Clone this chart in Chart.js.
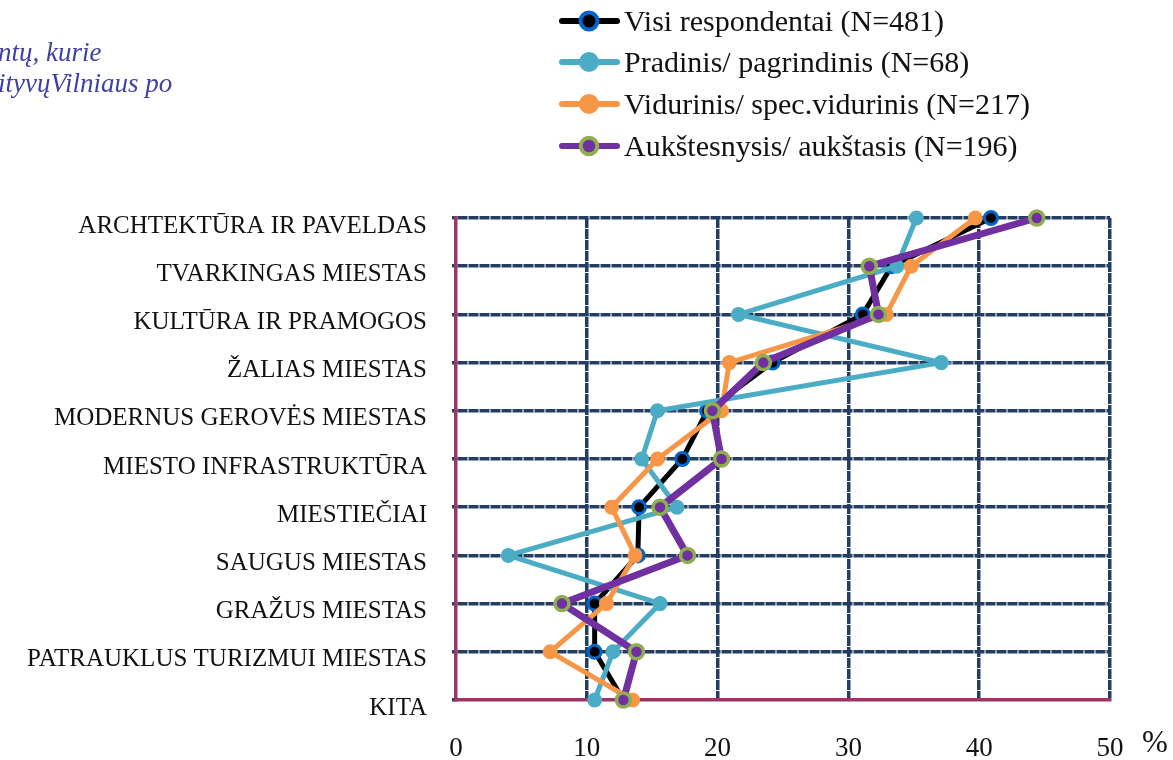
<!DOCTYPE html>
<html>
<head>
<meta charset="utf-8">
<script src="https://cdn.jsdelivr.net/npm/chart.js@4"></script>
<style>
  html, body { margin: 0; padding: 0; background: #fff; }
  body { width: 1173px; height: 760px; position: relative; overflow: hidden; font-family: "Liberation Serif", serif; }
  #wrap { position: absolute; left: 0; top: 0; width: 1173px; height: 760px; }
  .note { position: absolute; left: -2px; color: #3f3fa5; font-style: italic; font-size: 27px; white-space: nowrap; }
  .legend { position: absolute; left: 558px; top: 0; }
  .legend .row { height: 41.6px; display: flex; align-items: center; font-size: 30px; color: #111; white-space: nowrap; }
  .legend svg { margin-right: 2px; }
  .pct { position: absolute; left: 1142px; top: 724px; font-size: 31px; color: #111; }
</style>
</head>
<body>
<div id="wrap"><canvas id="c"></canvas></div>
<div class="note" style="top:37px">ntų, kurie</div>
<div class="note" style="top:68px">ityvųVilniaus po</div>
<div class="legend" id="legend"></div>
<div class="pct">%</div>
<script>
// categories top to bottom
const categories = ['ARCHTEKTŪRA IR PAVELDAS', 'TVARKINGAS MIESTAS', 'KULTŪRA IR PRAMOGOS', 'ŽALIAS MIESTAS',
  'MODERNUS GEROVĖS MIESTAS', 'MIESTO INFRASTRUKTŪRA', 'MIESTIEČIAI', 'SAUGUS MIESTAS',
  'GRAŽUS MIESTAS', 'PATRAUKLUS TURIZMUI MIESTAS', 'KITA']

// % values
const visi = [40.9, 33.3, 31.1, 24.2, 19.2, 17.3, 14.0, 13.9, 10.6, 10.6, 12.8]
const pradinis = [35.2, 33.7, 21.6, 37.1, 15.4, 14.2, 16.9, 4.0, 15.6, 12.0, 10.6]
const vidurinis = [39.7, 34.8, 32.9, 20.9, 20.3, 15.4, 11.9, 13.7, 11.5, 7.2, 13.5]
const aukstesnysis = [44.4, 31.6, 32.3, 23.5, 19.6, 20.3, 15.6, 17.7, 8.1, 13.8, 12.8]

const seriesNames = ['Visi respondentai (N=481)', 'Pradinis/ pagrindinis (N=68)',
  'Vidurinis/ spec.vidurinis (N=217)', 'Aukštesnysis/ aukštasis (N=196)']

const xMin = 0
const xMax = 50
const xStep = 10

const NAVY = '#243e62'
const AXIS = '#9c3468'

const styles = [
  { line: '#000000', fill: '#000000', ring: '#0066cc', width: 5, radius: 6.5, ringW: 3, order: 4 },
  { line: '#4bacc6', fill: '#4bacc6', ring: '#4bacc6', width: 5, radius: 7.5, ringW: 0, order: 3 },
  { line: '#f79646', fill: '#f79646', ring: '#f79646', width: 5, radius: 7.5, ringW: 0, order: 2 },
  { line: '#7030a0', fill: '#7030a0', ring: '#8fae4f', width: 7, radius: 7, ringW: 3.5, order: 1 }
]
const values = [visi, pradinis, vidurinis, aukstesnysis]

const datasets = values.map((v, i) => ({
  label: seriesNames[i],
  data: v,
  borderColor: styles[i].line,
  borderWidth: styles[i].width,
  backgroundColor: styles[i].fill,
  pointBackgroundColor: styles[i].fill,
  pointBorderColor: styles[i].ring,
  pointBorderWidth: styles[i].ringW,
  pointRadius: styles[i].radius,
  tension: 0,
  clip: false,
  order: styles[i].order
}))

// html legend: line with marker
const legendEl = document.getElementById('legend')
styles.forEach((s, i) => {
  const row = document.createElement('div')
  row.className = 'row'
  const r = s.ringW ? 10 - s.ringW / 2 : 10
  row.innerHTML = `<svg width="64" height="24"><line x1="4" y1="12" x2="59" y2="12" stroke="${s.line}" stroke-width="6" stroke-linecap="round"/>` +
    `<circle cx="31" cy="12" r="${r}" fill="${s.fill}" stroke="${s.ring}" stroke-width="${s.ringW ? 4 : 0}"/></svg>` +
    `<span>${seriesNames[i]}</span>`
  legendEl.appendChild(row)
})

new Chart(document.getElementById('c'), {
  type: 'line',
  data: { labels: categories, datasets },
  options: {
    indexAxis: 'y',
    responsive: true,
    maintainAspectRatio: false,
    animation: false,
    layout: { padding: { left: 0, right: 63, top: 218, bottom: 0 } },
    plugins: { legend: { display: false }, tooltip: { enabled: false } },
    scales: {
      x: {
        type: 'linear', position: 'bottom', min: xMin, max: xMax,
        afterFit: s => { s.height = 60 },
        ticks: { stepSize: xStep, color: '#111', padding: 33, font: { family: 'Liberation Serif', size: 27 } },
        grid: { color: c => c.tick && c.tick.value === xMin ? 'rgba(0,0,0,0)' : NAVY, lineWidth: 3.5, drawTicks: false },
        border: { color: AXIS, width: 3.5, dash: [10, 1] }
      },
      y: {
        type: 'category', offset: false,
        afterFit: s => { s.width = 456 },
        ticks: { color: '#111', padding: 25, labelOffset: 8, font: { family: 'Liberation Serif', size: 25 } },
        grid: {
          color: c => c.index === categories.length - 1 ? 'rgba(0,0,0,0)' : NAVY,
          lineWidth: 3.5, tickLength: 4, tickColor: NAVY, tickWidth: 3.5
        },
        border: { color: AXIS, width: 3.5, dash: [10, 1] }
      }
    }
  }
})
</script>
</body>
</html>
